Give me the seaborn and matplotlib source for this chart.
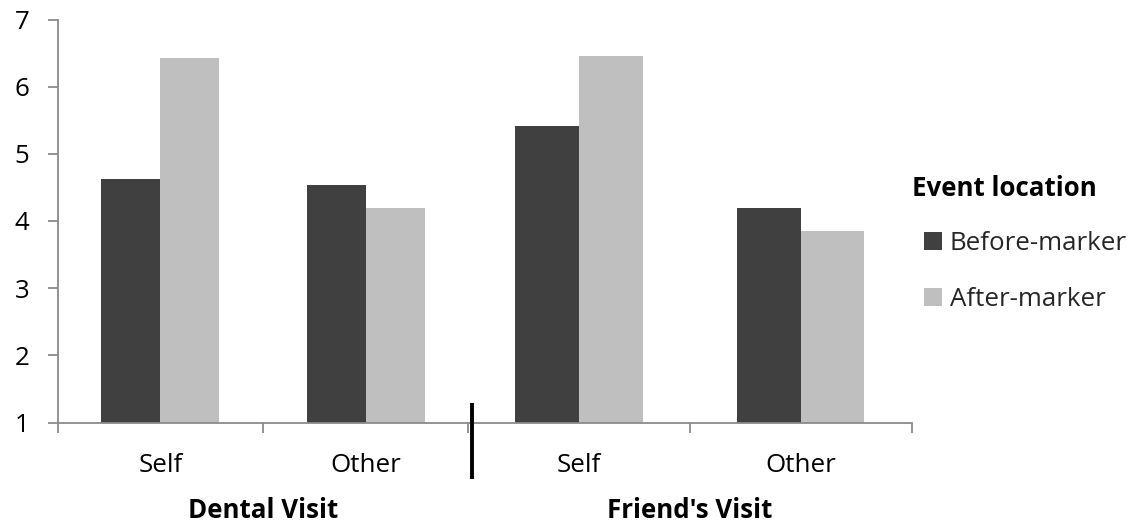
import matplotlib
matplotlib.use("Agg")
import matplotlib.pyplot as plt
import matplotlib.transforms as mtransforms
from matplotlib.patches import Patch
import seaborn as sns
import pandas as pd

# Mean ratings per visit type / perspective, split by event location
visit_types = ["Dental Visit", "Friend's Visit"]
perspectives = ["Self", "Other"]
dental_before = [4.62, 4.53]
dental_after = [6.42, 4.20]
friend_before = [5.41, 4.19]
friend_after = [6.46, 3.85]
series_names = ["Before-marker", "After-marker"]
series_colors = ["#404040", "#BFBFBF"]
y_ticks = [1, 2, 3, 4, 5, 6, 7]


def panel_frame(before, after):
    return pd.DataFrame({
        "perspective": perspectives * 2,
        "value": before + after,
        "series": [series_names[0]] * 2 + [series_names[1]] * 2,
    })


sns.set_theme(style="white")
plt.rcParams["font.family"] = ["Open Sans", "DejaVu Sans"]

FS = 18.6
W, H = 1148, 529
AX_LEFT, AX_MID, AX_RIGHT = 57.7, 468.3, 911.5
AX_TOP, AX_BOTTOM = 19.5, 422.5
axis_grey = "#8A8A8A"

fig = plt.figure(figsize=(W / 100, H / 100), dpi=100)
ax_l = fig.add_axes([AX_LEFT / W, 1 - AX_BOTTOM / H,
                     (AX_MID - AX_LEFT) / W, (AX_BOTTOM - AX_TOP) / H])
ax_r = fig.add_axes([AX_MID / W, 1 - AX_BOTTOM / H,
                     (AX_RIGHT - AX_MID) / W, (AX_BOTTOM - AX_TOP) / H],
                    sharey=ax_l)

panels = [(ax_l, dental_before, dental_after), (ax_r, friend_before, friend_after)]
for ax, before, after in panels:
    sns.barplot(data=panel_frame(before, after), x="perspective", y="value",
                hue="series", order=perspectives, hue_order=series_names,
                palette=series_colors, width=0.575, gap=0, linewidth=0,
                saturation=1, legend=False, ax=ax)
    ax.set_xlim(-0.5, 1.5)
    ax.set_xlabel("")
    ax.set_ylabel("")
    ax.set_facecolor("none")
    for side in ["top", "right", "left"]:
        ax.spines[side].set_visible(False)
    ax.spines["bottom"].set_color(axis_grey)
    ax.spines["bottom"].set_linewidth(1.3)
    ax.set_xticks([0, 1])
    ax.set_xticklabels(perspectives)
    ax.tick_params(axis="x", which="major", length=0, pad=22, labelsize=FS,
                   labelcolor="black")
    ax.tick_params(axis="x", which="minor", length=7.5, width=1.3,
                   color=axis_grey, direction="out", bottom=True)

ax_l.set_xticks([-0.5, 0.5, 1.5], minor=True)
ax_r.set_xticks([0.5, 1.5], minor=True)

ax_l.set_ylim(1, 7)
ax_l.set_yticks(y_ticks)
ax_l.set_yticklabels([str(t) for t in y_ticks])
ax_l.spines["left"].set_visible(True)
ax_l.spines["left"].set_color(axis_grey)
ax_l.spines["left"].set_linewidth(1.3)
ax_l.tick_params(axis="y", length=7.5, width=1.3, color=axis_grey, pad=13,
                 labelsize=FS, labelcolor="black", left=True)
ax_r.tick_params(axis="y", left=False, labelleft=False)

# group captions centred under each panel
for ax, name in zip([ax_l, ax_r], visit_types):
    trans = mtransforms.blended_transform_factory(ax.transAxes, fig.transFigure)
    ax.text(0.5, 1 - 510 / H, name, transform=trans, ha="center",
            va="center", fontsize=FS, fontweight="bold", color="black")

# separator between the two visit groups
fig.add_artist(plt.Line2D([471.7 / W, 471.7 / W], [1 - 403 / H, 1 - 478.5 / H],
                          color="black", linewidth=2.8,
                          solid_capstyle="butt"))

# legend
fig.text(912 / W, 1 - 188 / H, "Event location", ha="left", va="center",
         fontsize=FS, fontweight="bold", color="black")
handles = [Patch(facecolor=c, edgecolor="none", label=n)
           for c, n in zip(series_colors, series_names)]
fig.legend(handles=handles, loc="upper left",
           bbox_to_anchor=(924 / W, 1 - 231 / H), frameon=False,
           fontsize=FS, handlelength=0.7, handleheight=0.7,
           handletextpad=0.3, labelspacing=1.2, borderpad=0,
           borderaxespad=0)

fig.savefig("out.png", dpi=100, facecolor="white")
